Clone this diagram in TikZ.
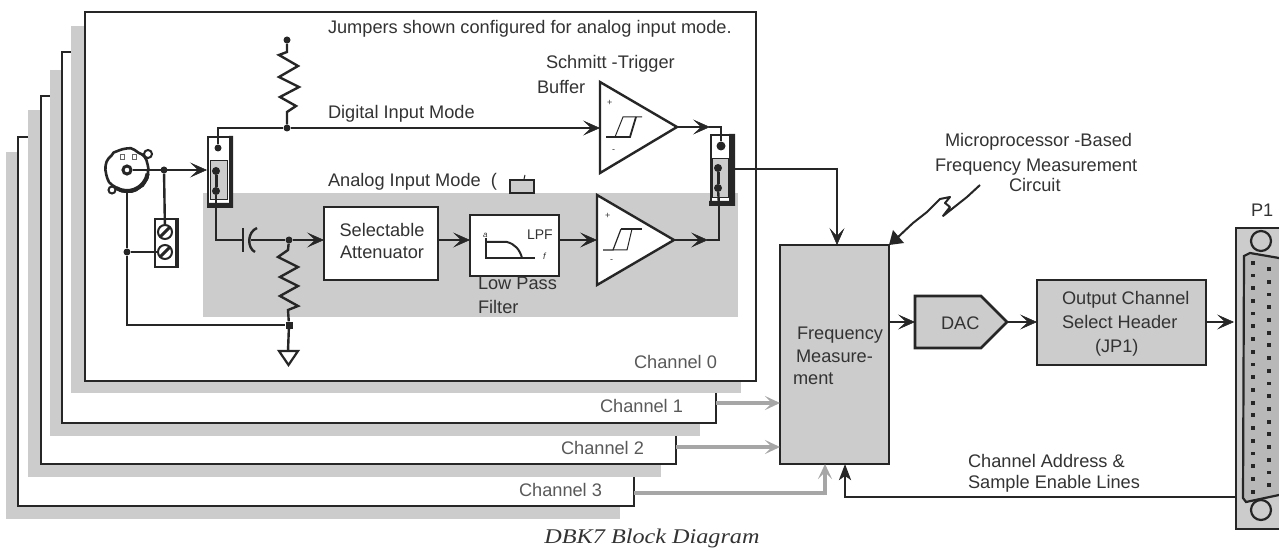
\documentclass[tikz,border=0pt]{standalone}
\usepackage{fontspec}
\setmainfont{Liberation Sans}
\newfontfamily\capfont{Liberation Serif}
\usetikzlibrary{arrows.meta,decorations.pathmorphing,calc}
\definecolor{ink}{HTML}{262626}
\definecolor{txt}{HTML}{333333}
\definecolor{panel}{HTML}{CCCCCC}
\definecolor{wire}{HTML}{A6A6A6}
\definecolor{shell}{HTML}{B8B8B8}
\tikzset{
 x=1pt,y=-1pt,
 box/.style={draw=ink,line width=2.6pt,inner sep=0pt,outer sep=0pt,anchor=north west},
 shadowbox/.style={fill=panel,inner sep=0pt,outer sep=0pt,anchor=north west},
 frameb/.style={box,fill=white,line width=2.4pt},
 lab/.style={inner sep=0pt,outer sep=0pt,anchor=base west,text=txt,font=\fontsize{18.2}{20}\selectfont},
 chlab/.style={lab,text=black!65},
 conn/.style={draw=ink,line width=2.4pt},
 arr/.style={conn,-{Stealth[length=17pt,width=15pt,inset=8pt,line width=.5pt]}},
 grayarr/.style={draw=wire,line width=4.2pt,-{Stealth[length=15pt,width=14pt,inset=7pt]}},
 dot/.style={circle,fill=ink,inner sep=0pt,minimum size=7pt},
 pin/.style={rectangle,fill=ink,inner sep=0pt,minimum width=3.8pt,minimum height=3.8pt},
 amp/.style={draw=ink,fill=white,line width=2.4pt,line join=miter},
 zig/.style={draw=ink,line width=2.4pt,line join=miter},
}
\begin{document}
\begin{tikzpicture}
\useasboundingbox (0,0) rectangle (1279,553);
\fill[white] (0,0) rectangle (1279,553);
% stacked channel cards
\node[shadowbox,minimum width=614pt,minimum height=367pt] (s3) at (6,152) {};
\node[frameb,minimum width=616pt,minimum height=369pt] (f3) at (18,137) {};
\node[shadowbox,minimum width=633pt,minimum height=367pt] (s2) at (28,110) {};
\node[frameb,minimum width=635pt,minimum height=368pt] (f2) at (41,96) {};
\node[shadowbox,minimum width=650pt,minimum height=366pt] (s1) at (50,70) {};
\node[frameb,minimum width=654pt,minimum height=371pt] (f1) at (62,52) {};
\node[shadowbox,minimum width=670pt,minimum height=367pt] (s0) at (71,26) {};
\node[frameb,minimum width=671pt,minimum height=369pt] (f0) at (85,12) {};
\node[shadowbox,minimum width=535pt,minimum height=124pt] (analog) at (203,193) {};
% labels on cards
\node[lab] (t1) at (328,34) {Jumpers shown configured for analog input mode.};
\node[lab] (t2) at (546,69) {Schmitt -Trigger};
\node[lab] (t3) at (537,94) {Buffer};
\node[lab] (t4) at (328,119) {Digital Input Mode};
\node[lab] (t5) at (328,187) {Analog Input Mode\ \ (};
\node[draw=ink,fill=panel,line width=2.4pt,minimum width=24pt,minimum height=13pt,inner sep=0pt,anchor=north west] (jsym) at (508.5,179) {};
\draw[ink,line width=1pt] (524,179)--(525,175);
\node[chlab] (c0) at (634,368) {Channel 0};
\node[chlab] (c1) at (600,412) {Channel 1};
\node[chlab] (c2) at (561,454) {Channel 2};
\node[chlab] (c3) at (519,496) {Channel 3};
% left jumper
\node[frameb,minimum width=22pt,minimum height=69pt] (jl) at (208,137) {};
\fill[ink] (229,136) rectangle (233,208) (207,203) rectangle (233,208);
\node[draw=ink,line width=1pt,fill=panel,minimum width=17pt,minimum height=39pt,inner sep=0,anchor=north west] (jlin) at (210,160) {};
\node[dot] (jl1) at (218,148) {};
\node[dot,minimum size=8pt] (jl2) at (216,171) {};
\node[dot,minimum size=8pt] (jl3) at (216,191) {};
\draw[ink,line width=3pt] (jl2)--(jl3);
% right jumper
\node[frameb,minimum width=22pt,minimum height=69pt] (jr) at (711,135) {};
\fill[ink] (729,134) rectangle (735,206) (709,201) rectangle (735,206);
\node[draw=ink,line width=1pt,fill=panel,minimum width=16pt,minimum height=39pt,inner sep=0,anchor=north west] (jrin) at (712,158) {};
\node[dot,minimum size=9pt] (jr1) at (721,146) {};
\node[dot,minimum size=8pt] (jr2) at (718,168) {};
\node[dot,minimum size=8pt] (jr3) at (718,188) {};
\draw[ink,line width=3pt] (jr2)--(jr3);
% BNC
\coordinate (bnc) at (127,170);
\draw[ink,line width=2.6pt,fill=white,decorate,decoration={random steps,segment length=4pt,amplitude=.8pt}] (bnc) circle (21);
\draw[ink,line width=4pt] (bnc) ++(10:21) arc (10:120:21);
\draw[ink,line width=2pt,fill=white] (148,154) circle (4);
\draw[ink,line width=2pt,fill=white] (112,190) circle (3.5);
\draw[black!60,line width=1pt] (120,155) rectangle (124,160) (132,155) rectangle (136,160);
\node[circle,draw=ink,fill=white,line width=3pt,minimum size=8pt,inner sep=0pt] (core) at (bnc) {};
% terminal block
\node[frameb,minimum width=22pt,minimum height=48pt] (tb) at (155,219) {};
\fill[ink] (175,218) rectangle (179,268);
\foreach \n/\yy in {scr1/232,scr2/252}{
 \node[circle,draw=ink,line width=2pt,fill=white,minimum size=14pt,inner sep=0pt] (\n) at (165,\yy) {};
 \draw[ink,line width=3pt] ($(\n)+(-4.5,4.5)$)--($(\n)+(4.5,-4.5)$);
}
% input wiring
\node[dot] (jin) at (164,170) {};
\node[dot] (jgnd) at (127,252) {};
\node[dot] (jdig) at (287,128) {};
\node[dot] (jtop) at (287,40) {};
\node[dot] (jcap) at (289,240) {};
\node[pin,minimum width=7pt,minimum height=7pt] (jbot) at (289,325) {};
\coordinate (capa) at (243,240);
\coordinate (capb) at (251,240);
\draw[arr] (core.east)--(207,170);
\draw[conn] (jin)--(scr1);
\draw[conn] (bnc)++(0,21)--(jgnd)--(127,325)--(jbot);
\draw[conn] (jgnd)--(scr2);
\draw[conn] (jl1)--(218,128)--(jdig);
\draw[conn] (jl3)--(216,240)--(capa);
\draw[line width=2.4pt,ink] (243,228)--(243,252);
\draw[line width=2.4pt,ink] (257,228) .. controls (247,232) and (247,248) .. (255,252);
\draw[conn] (capb)--(jcap);
\draw[zig] (jtop)--(287,52)--(279,55)--(298,66)--(279,77)--(299,87)--(280,97)--(296,106)--(287,112)--(jdig);
\draw[zig] (jcap)--(288,250)--(278,257)--(298,267)--(280,277)--(298,286)--(280,296)--(298,306)--(288,310)--(jbot);
% ground
\coordinate (gtop) at (288,351);
\draw[conn] (jbot)--(gtop);
\draw[ink,line width=2.2pt,fill=white] (279,351)--(298,351)--(288.5,365)--cycle;
% attenuator, LPF
\node[box,fill=white,minimum width=114pt,minimum height=73pt] (att) at (324,207) {};
\node[inner sep=0,text=txt,font=\fontsize{18.2}{22}\selectfont,align=center] (attl) at (382,241) {Selectable\\Attenuator};
\node[box,fill=white,minimum width=89pt,minimum height=61pt,line width=2.8pt] (lpf) at (470,215) {};
\node[lab,font=\fontsize{14}{15}\selectfont] (lpfl) at (527,240) {LPF};
\node[lab,font=\itshape\fontsize{8}{9}\selectfont] (la) at (483,238) {a};
\node[lab,font=\itshape\fontsize{9}{10}\selectfont] (lf) at (543,260) {f};
\draw[ink,line width=1.8pt] (486,238)--(486,258)--(535,258);
\draw[ink,line width=2pt] (486,242)--(507,242) .. controls (515,244) and (520,250) .. (522,258);
\node[lab] (lpt1) at (478,290) {Low Pass};
\node[lab] (lpt2) at (478,313) {Filter};
\draw[arr] (jcap)--(att.west |- jcap);
\draw[arr] (att.east |- jcap)--(lpf.west |- jcap);
% amps
\coordinate (a1in) at (600,128); \coordinate (a1out) at (677,127);
\coordinate (a2in) at (597,240); \coordinate (a2out) at (674,240);
\draw[amp] (600,82)--(a1out)--(600,173)--cycle;
\draw[amp] (597,195)--(a2out)--(597,285)--cycle;
\draw[ink,line width=1pt] (642,117)--(623,117)--(615,137);
\draw[ink,line width=1.8pt] (606,137)--(630,137)--(636,117);
\draw[ink,line width=2pt] (621,229)--(642,229);
\draw[ink,line width=1.2pt] (621,229)--(613,250)--(603,250);
\draw[ink,line width=1pt] (613,250)--(627,250)--(632,229);
\node[lab,font=\fontsize{9}{10}\selectfont] (p1) at (607,106) {+};
\node[lab,font=\fontsize{9}{10}\selectfont] (m1) at (612,153) {-};
\node[lab,font=\fontsize{9}{10}\selectfont] (p2) at (605,219) {+};
\node[lab,font=\fontsize{9}{10}\selectfont] (m2) at (610,262) {-};
\draw[arr] (jdig)--(a1in);
\draw[arr] (lpf.east |- a2in)--(a2in);
\draw[arr] (a1out)--(710,127);
\draw[conn] (709,127)--(721,127)--(jr1);
\draw[arr] (a2out)--(708,240);
\draw[conn] (707,240)--(719,240)--(719,206);
\draw[conn] (jr3)--(719,206);
% FM box
\node[box,fill=panel,minimum width=109pt,minimum height=219pt] (fm) at (780,245) {};
\node[lab] (fm1) at (797,339) {Frequency};
\node[lab] (fm2) at (796,362) {Measure-};
\node[lab] (fm3) at (793,384) {ment};
\coordinate (jrout) at (735,169);
\draw[conn] (jrout)--(837,169);
\draw[arr] (837,168)--(837,245);
% channel arrows
\draw[grayarr] (716,403)--(780,403);
\draw[grayarr] (676,447)--(780,447);
\draw[draw=wire,line width=4.2pt] (634,493)--(825,493);
\draw[grayarr] (825,495)--(825,464);
% address lines
\coordinate (p1wire) at (1235,497);
\draw[conn,-{Stealth[length=16pt,width=12pt,inset=4pt]}] (p1wire)--(845,497)--(845,464);
\node[lab] (ad1) at (968,467) {Channel Address \&};
\node[lab] (ad2) at (968,488.5) {Sample Enable Lines};
% callout
\node[lab] (m1a) at (945,147) {Microprocessor -Based};
\node[lab] (m2a) at (935,172) {Frequency Measurement};
\node[lab] (m3a) at (1009,192) {Circuit};
\coordinate (ltip) at (889,245);
\draw[ink,line width=2pt,line join=round] (980,185)--(967,197)--(943,216)--(950,207)--(945,203)--(950,197)--(940,199)--(927,212)--(913,223)--(897,238);
\fill[ink] (ltip)--(893,230)--(904,243)--cycle;
% DAC and header
\draw[ink,line width=2.6pt,fill=panel] (915,296)--(981,296)--(1007,322)--(981,348)--(915,348)--cycle;
\coordinate (dacw) at (915,322);\coordinate (dace) at (1007,322);
\node[lab] (dacl) at (941,329) {DAC};
\node[box,fill=panel,minimum width=169pt,minimum height=85pt] (hdr) at (1037,280) {};
\node[lab] (h1) at (1062,304) {Output Channel};
\node[lab] (h2) at (1062,328) {Select Header};
\node[lab] (h3) at (1095,352) {(JP1)};
\draw[arr] (fm.east |- dacw)--(dacw);
\draw[arr] (dace)--(hdr.west |- dace);
\draw[arr] (hdr.east |- dace)--(1234,322);
% P1 connector
\node[lab] (p1l) at (1251,217) {P1};
\node[draw=ink,line width=1.8pt,fill=panel,inner sep=0,minimum width=50pt,minimum height=301pt,anchor=north west] (p1) at (1235,227) {};
\draw[ink,line width=2.2pt,fill=shell] (1290,265)--(1279,258)--(1250,253)--(1244,256)--(1243,498)--(1246,502)--(1279,495)--(1290,495);
\node[circle,draw=ink,line width=2.2pt,fill=panel,minimum size=20pt,inner sep=0] (h1p) at (1261,241) {};
\node[circle,draw=ink,line width=2.2pt,fill=panel,minimum size=20pt,inner sep=0] (h2p) at (1261,510) {};
\foreach \i in {0,...,18}{\node[pin] (pa\i) at (1253,262.7+12.72*\i) {};}
\foreach \i in {0,...,17}{\node[pin] (pb\i) at (1269,269+12.72*\i) {};}
% caption
\node[inner sep=0,text=txt,font=\capfont\itshape\fontsize{22}{24}\selectfont,anchor=center,xscale=1.1,yscale=.95] (cap) at (652,538) {DBK7 Block Diagram};
\end{tikzpicture}
\end{document}
